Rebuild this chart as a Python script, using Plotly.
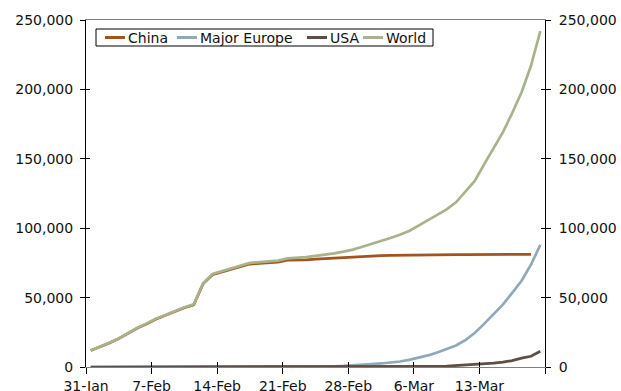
import pandas as pd
import plotly.graph_objects as go

# ---- data ----
dates = pd.date_range("2020-01-31", "2020-03-19", freq="D")  # 49 daily categories

china = [11821, 14411, 17238, 20471, 24363, 28060, 31211, 34598, 37251, 40235,
         42708, 44730, 59882, 66490, 68500, 70548, 72436, 74185, 74576, 75077,
         75550, 77001, 77022, 77241, 77754, 78166, 78600, 78928, 79356, 79932,
         80136, 80261, 80386, 80537, 80690, 80770, 80823, 80860, 80887, 80921,
         80932, 80945, 80977, 81003, 81033, 81058, 81102, 81156]

major_europe = [14, 19, 21, 29, 29, 31, 31, 33, 37, 50,
                52, 55, 55, 55, 57, 58, 58, 58, 58, 58,
                58, 59, 101, 194, 272, 373, 524, 769, 1045, 1375,
                2074, 2546, 3118, 3945, 5158, 6526, 8337, 10487, 12907, 15469,
                19387, 24470, 31035, 37756, 44907, 53387, 62170, 73697, 88029]

usa = [7, 8, 8, 11, 11, 11, 12, 12, 12, 12,
       12, 13, 13, 14, 15, 15, 15, 15, 15, 15,
       15, 35, 35, 35, 53, 53, 59, 60, 62, 70,
       76, 101, 122, 153, 221, 278, 417, 537, 605, 959,
       1281, 1663, 2179, 2727, 3499, 4632, 6421, 7783, 11300]

world = [11951, 14546, 17388, 20621, 24523, 28260, 31431, 34878, 37551, 40555,
         43048, 45120, 60322, 66980, 69030, 71108, 73116, 75015, 75526, 76137,
         76670, 78270, 78593, 79177, 80074, 80818, 81822, 83074, 84540, 86587,
         88573, 90431, 92965, 95271, 98039, 101881, 105900, 109858, 113617, 118654,
         126000, 134000, 146000, 157000, 169000, 183000, 198000, 217000, 242000]

tick_dates = ["2020-01-31", "2020-02-07", "2020-02-14", "2020-02-21",
              "2020-02-28", "2020-03-06", "2020-03-13", "2020-03-20"]
tick_labels = ["31-Jan", "7-Feb", "14-Feb", "21-Feb", "28-Feb", "6-Mar", "13-Mar", ""]

y_ticks = [0, 50000, 100000, 150000, 200000, 250000]

names = ["China", "Major Europe", "USA", "World"]
values = [china, major_europe, usa, world]
colors = ["#A3541C", "#8FA9BA", "#5E4E43", "#A8B38C"]

# ---- geometry of the plot area (pixels) ----
W, H = 621, 391
L, R, T, B = 86, 76, 20, 24
PW, PH = W - L - R, H - T - B


def px_x(p):
    return (p - L) / PW


def px_y(p):
    return (H - B - p) / PH


# points sit in the middle of each day slot (Excel "between tick marks")
xpos = dates + pd.Timedelta(hours=12)

FONT = "DejaVu Sans, Verdana, sans-serif"
TXT = "#111111"

fig = go.Figure()
for name, vals, col in zip(names, values, colors):
    fig.add_trace(go.Scatter(
        x=xpos[:len(vals)], y=vals, name=name, mode="lines",
        line=dict(color=col, width=2.7), hoverinfo="skip", showlegend=False))

invisible = dict(mode="lines", showlegend=False, hoverinfo="skip",
                 line=dict(color="rgba(0,0,0,0)"))
fig.add_trace(go.Scatter(x=[xpos[0]], y=[0], yaxis="y2", **invisible))
fig.add_trace(go.Scatter(x=[xpos[0]], y=[0], xaxis="x2", yaxis="y3", **invisible))
fig.add_trace(go.Scatter(x=[xpos[0]], y=[0], yaxis="y4", **invisible))

xrange_ = ["2020-01-31", "2020-03-20"]
yrange_ = [0, 250000]

common_y = dict(range=yrange_, tickvals=y_ticks, tickformat=",d", automargin=False,
                showgrid=False, zeroline=False,
                tickfont=dict(family=FONT, size=14, color=TXT))

# ---- custom legend (Excel style: short line keys, boxed) ----
shapes = [dict(type="rect", xref="paper", yref="paper",
               x0=px_x(96), x1=px_x(433), y0=px_y(46), y1=px_y(29),
               line=dict(color="#000000", width=1), fillcolor="white", layer="above")]
annotations = []
key_x = [105, 177, 307, 363]
for name, col, kx in zip(names, colors, key_x):
    shapes.append(dict(type="line", xref="paper", yref="paper",
                       x0=px_x(kx), x1=px_x(kx + 20), y0=px_y(37.5), y1=px_y(37.5),
                       line=dict(color=col, width=3), layer="above"))
    annotations.append(dict(xref="paper", yref="paper", x=px_x(kx + 20.5), y=px_y(37.5),
                            xanchor="left", yanchor="middle", showarrow=False,
                            text=name, font=dict(family=FONT, size=14, color=TXT)))

fig.update_layout(
    width=W, height=H,
    margin=dict(l=L, r=R, t=T, b=B, autoexpand=False),
    paper_bgcolor="white", plot_bgcolor="white",
    font=dict(family=FONT, size=14, color=TXT),
    showlegend=False,
    shapes=shapes, annotations=annotations,
    xaxis=dict(type="date", range=xrange_, tickvals=tick_dates, ticktext=tick_labels,
               automargin=False, showgrid=False, zeroline=False, showline=True,
               linecolor="#808080", linewidth=1, mirror=True, ticks="outside",
               ticklen=6, tickcolor="#000000",
               tickfont=dict(family=FONT, size=14, color=TXT)),
    xaxis2=dict(type="date", range=xrange_, tickvals=tick_dates, overlaying="x",
                anchor="y", side="bottom", showticklabels=False, showgrid=False,
                zeroline=False, showline=False, ticks="inside", ticklen=5,
                tickcolor="#000000", automargin=False),
    yaxis=dict(**common_y, showline=True, linecolor="#000000", linewidth=1,
               ticks="outside", ticklen=5, tickcolor="#000000", side="left",
               ticklabelstandoff=4),
    yaxis2=dict(**common_y, overlaying="y", side="right", anchor="x",
                showline=True, linecolor="#000000", linewidth=1,
                ticks="outside", ticklen=5, tickcolor="#000000",
                ticklabelstandoff=5),
    yaxis3=dict(range=yrange_, tickvals=y_ticks, overlaying="y", side="left",
                anchor="x", showticklabels=False, showgrid=False, zeroline=False,
                showline=False, ticks="inside", ticklen=4, tickcolor="#000000",
                automargin=False),
    yaxis4=dict(range=yrange_, tickvals=y_ticks, overlaying="y", side="right",
                anchor="x", showticklabels=False, showgrid=False, zeroline=False,
                showline=False, ticks="inside", ticklen=4, tickcolor="#000000",
                automargin=False),
)

fig.write_html("out.html")
